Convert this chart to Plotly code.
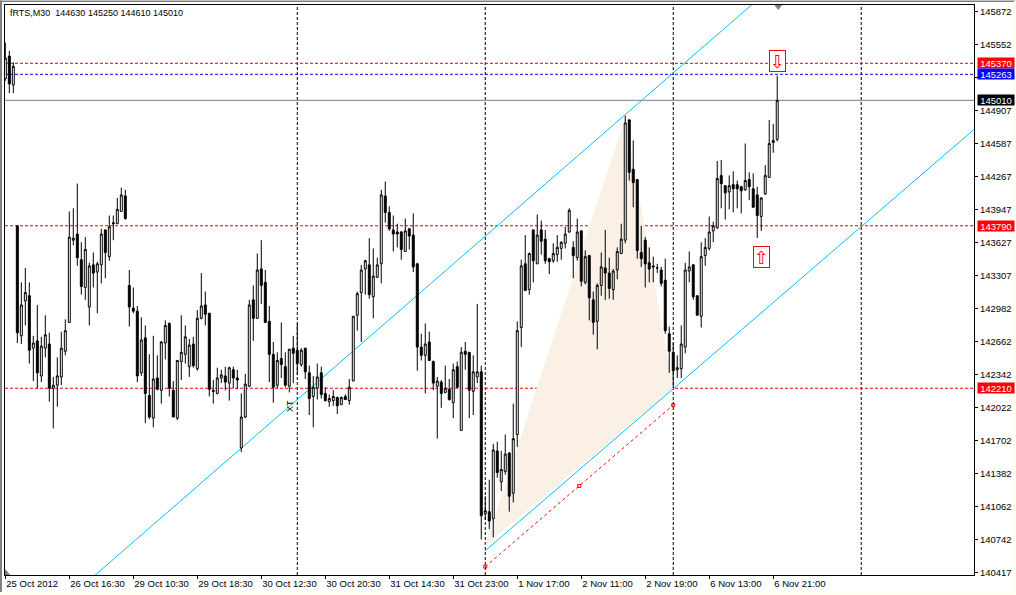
import plotly.graph_objects as go

symbol_text = "fRTS,M30\u00a0\u00a0144630 145250 144610 145010"

opens = [
145220,145440,145160,143790,142720,143060,143110,142600,142670,142330,
142600,142640,142210,142240,142320,142570,142850,143650,143710,143460,
143190,143000,143410,143340,143410,143750,143490,143820,143810,143930,
144080,143210,142990,142960,142360,142700,142140,141920,142310,142190,
142650,142840,142190,141920,142470,142540,142420,142640,142400,142890,
143020,142940,142190,142160,142310,142330,142260,142390,142310,141630,
141930,142230,143070,142890,143370,143240,142860,142540,142240,142500,
142420,142230,142600,142580,142440,142600,142360,142130,142210,142360,
142160,142080,142090,142120,142050,142130,142090,142280,142920,143140,
143370,143410,143100,143290,143420,144080,143920,143750,143730,143730,
143540,143760,143700,143420,142610,142530,142660,142470,142230,142270,
142170,142200,142070,142420,141800,142570,142560,142180,142320,142370,
140990,141010,140940,141600,141300,141400,141580,141190,141760,142800,
143420,143170,143750,143420,143750,143660,143470,143450,143510,143570,
143620,143730,143580,143480,143740,143240,143500,143070,142860,143210,
143380,143330,143170,143360,143520,143650,144820,144340,144240,143530,
143650,143430,143400,143380,143360,143260,142740,142560,142390,142400,
142610,143350,143410,143110,142910,143500,143570,143740,143770,144280,
144180,144120,144190,144190,144170,144140,144240,144150,144090,143880,
144100,144260,144600,144630]

highs = [
145570,145490,145380,143790,143240,143380,143240,142720,143020,142710,
142920,142750,142320,142510,142760,142880,143930,143960,144200,143630,
143680,143430,143530,143440,143760,143750,143890,143890,144060,144160,
144140,143360,143190,143010,142900,142820,142540,142720,142530,142670,
142870,142850,142280,142480,142920,142820,142690,142710,142970,143330,
143150,142940,142290,142410,142390,142420,142420,142420,142390,142160,
142350,143070,143210,143520,143650,143360,143010,142660,142560,142850,
142560,142590,142720,142840,142600,142600,142430,142330,142450,142420,
142220,142150,142190,142130,142130,142150,142300,142910,143150,143410,
143460,143670,143570,143480,144140,144220,143980,143890,143810,143740,
143860,143770,143910,143430,142740,142840,142760,142480,142320,142290,
142430,142300,142450,142470,142610,142660,142560,142530,143030,142430,
141160,141320,141670,141690,141600,141760,141590,142060,142860,143460,
143700,143530,143750,143900,143840,143750,143480,143620,143700,143640,
143780,143960,143640,143860,143750,143550,143500,143150,143230,143530,
143750,143480,143370,143580,143810,144860,144820,144620,144240,143790,
143680,143580,143490,143420,143390,143470,142810,142650,142530,142820,
143430,143540,143420,143110,143630,143670,143880,143830,144420,144430,
144180,144280,144320,144230,144180,144590,144310,144300,144170,144070,
144380,144820,144780,145250]

lows = [
145200,145080,145080,142650,142640,142820,142450,142280,142210,142270,
142510,142080,141820,142030,142240,142530,142850,143600,143400,143120,
143070,142820,143190,142940,143230,143280,143450,143650,143810,143930,
143850,142810,142940,142270,142330,141870,141910,141830,142190,142060,
142490,142130,141930,141900,142290,142450,142320,142410,142380,142880,
142820,142130,142060,142150,142260,142190,142090,142210,142200,141590,
141920,142220,142670,142890,143030,142850,142270,142070,142210,142310,
142220,142170,142260,142340,142420,142300,141950,141830,142100,142110,
142080,142030,142040,141960,142050,142100,142050,142280,142770,142660,
143120,143080,142890,143280,143230,143820,143740,143540,143580,143460,
143540,143560,143340,142380,142480,142160,142480,142190,141720,142020,
142160,142090,141920,142210,141800,142390,141920,141950,142260,140740,
140930,140840,140760,141340,141210,141370,141010,141100,141640,142610,
143160,143120,143240,143420,143510,143420,143320,143430,143440,143460,
143570,143720,143280,143450,143200,143220,142870,142730,142590,143110,
143070,143080,143070,143270,143520,143620,144230,143970,143470,143390,
143190,143240,143240,143330,143200,142740,142360,142210,142310,142310,
142550,143240,143070,142920,142800,143400,143550,143630,143760,143960,
143850,143950,143920,143960,143910,144130,144040,143970,143670,143740,
144090,144260,144500,144610]

closes = [
145420,145170,145340,142750,143020,143140,142580,142650,142360,142620,
142730,142210,142240,142330,142600,142770,143680,143670,143480,143200,
143560,143400,143330,143420,143710,143530,143780,143810,143950,144090,
143860,143000,142960,142330,142680,142160,141930,142300,142200,142660,
142820,142210,141930,142480,142560,142710,142630,142430,142890,143010,
142930,142200,142180,142310,142340,142270,142410,142310,142290,141930,
142250,143020,142890,143360,143210,142850,142540,142220,142480,142440,
142240,142590,142550,142450,142580,142370,142110,142220,142320,142150,
142090,142110,142130,142040,142120,142100,142220,142910,143130,143360,
143450,143120,143300,143410,144090,143920,143760,143710,143710,143560,
143740,143690,143390,142610,142530,142640,142480,142260,142280,142160,
142210,142100,142390,142220,142560,142540,142190,142370,142370,140970,
141020,140920,141610,141390,141420,141570,141160,141720,142770,143400,
143160,143520,143450,143700,143640,143450,143440,143520,143580,143630,
143710,143940,143500,143730,143250,143490,143090,142850,143210,143390,
143330,143180,143350,143540,143660,144790,144310,144210,143550,143470,
143420,143370,143390,143380,143230,142770,142570,142380,142410,142640,
143360,143390,143100,142920,143490,143580,143730,143790,144250,144200,
144110,144180,144150,144150,144130,144230,144170,143970,143890,144060,
144280,144590,144620,145010]

price_ticks = [145872,145552,145232,144907,144587,144267,143947,143627,143307,142982,
               142662,142342,142022,141702,141382,141062,140742,140417]
hidden_tick = 145232
time_tick_idx = [0,16,32,48,64,80,96,112,128,144,160,176,192]
time_labels = ["25 Oct 2012","26 Oct 16:30","29 Oct 10:30","29 Oct 18:30","30 Oct 12:30",
               "30 Oct 20:30","31 Oct 14:30","31 Oct 23:00","1 Nov 17:00","2 Nov 11:00",
               "2 Nov 19:00","6 Nov 13:00","6 Nov 21:00"]
vlines = [73,120,167,214]
# level, line colour, dash, label background
levels = [(145370,"#CC1010","3px,2px","#FF0000"),
          (145263,"#0000FF","3px,2px","#0000FF"),
          (145010,"#708090","solid","#000000"),
          (143790,"#CC1010","3px,2px","#FF0000"),
          (142210,"#FF0000","3px,2px","#FF0000")]
# channel: (i0, p0, i1, p1)
upper_chan = (22.4,140391,186.7,145942)
lower_chan = (120,140630,242.3,144730)
red_chan = [120,143.5,167]
red_chan_p = [140475,141260,142046]
wedge_i = [120,155,167]
wedge_p = [140680,144844,142210]

X0, X1 = -0.08, 242.2
Y0, Y1 = 140394, 145937
FONT = "Liberation Sans"

fig = go.Figure()
fig.add_trace(go.Candlestick(
    x=list(range(len(opens))), open=opens, high=highs, low=lows, close=closes,
    increasing=dict(line=dict(color="black", width=1), fillcolor="white"),
    decreasing=dict(line=dict(color="black", width=1), fillcolor="black"),
    whiskerwidth=0, hoverinfo="skip", showlegend=False))
fig.add_trace(go.Scatter(x=red_chan, y=red_chan_p, mode="markers",
    marker=dict(symbol="square-open", size=3, color="#FF0000", line=dict(width=1)),
    hoverinfo="skip", showlegend=False))

shapes = [dict(type="path", layer="below", xref="x", yref="y", line=dict(width=0), fillcolor="#FAF0E6",
               path=f"M {wedge_i[0]} {wedge_p[0]} L {wedge_i[1]} {wedge_p[1]} L {wedge_i[2]} {wedge_p[2]} Z")]
for v in vlines:
    shapes.append(dict(type="line", layer="below", xref="x", yref="paper", x0=v, x1=v, y0=0, y1=1,
                       line=dict(color="black", width=1, dash="3px,2px")))
for p, c, d, _ in levels:
    shapes.append(dict(type="line", layer="below", xref="paper", yref="y", x0=0, x1=1, y0=p, y1=p,
                       line=dict(color=c, width=1, dash=d)))
for ch in (upper_chan, lower_chan):
    shapes.append(dict(type="line", layer="below", xref="x", yref="y", x0=ch[0], y0=ch[1], x1=ch[2], y1=ch[3],
                       line=dict(color="#00BFFF", width=1)))
shapes.append(dict(type="line", layer="below", xref="x", yref="y", x0=red_chan[0], y0=red_chan_p[0],
                   x1=red_chan[2], y1=red_chan_p[2], line=dict(color="#FF0000", width=1, dash="3px,3px")))
# scroll markers in the chart corners
shapes.append(dict(type="path", xref="paper", yref="paper", line=dict(width=0), fillcolor="#708090",
                   path="M 0 0 L 0.0055 0 L 0 0.0105 Z"))
shapes.append(dict(type="path", xref="paper", yref="paper", line=dict(width=0), fillcolor="#808080",
                   path="M 0.7939 1 L 0.8021 1 L 0.798 0.9912 Z"))
# window edges
for x0, x1, y0, y1, col in [(-0.00516, -0.0031, -0.0351, 1.0079, "#808080"),
                            (-0.00516, 1.0433, 1.0053, 1.0079, "#808080"),
                            (-0.00516, 1.0433, -0.0351, -0.0298, "#FFFFF0"),
                            (1.0413, 1.0433, -0.0351, 1.0079, "#FFFFF0")]:
    shapes.append(dict(type="rect", xref="paper", yref="paper", x0=x0, x1=x1, y0=y0, y1=y1,
                       line=dict(width=0), fillcolor=col))

anns = [dict(text=symbol_text, xref="paper", yref="paper", x=0.003, y=0.9855, xanchor="left", yanchor="middle",
             showarrow=False, font=dict(family=FONT, size=9, color="black")),
        dict(text="XT", xref="x", yref="y", x=71, y=142040, textangle=-90, showarrow=False,
             font=dict(family=FONT, size=9, color="black")),
        dict(text="\u21e9", xref="x", yref="y", x=193, y=145388, showarrow=False, width=15, height=20,
             bgcolor="white", bordercolor="#FF0000", borderwidth=1, borderpad=0,
             font=dict(family="DejaVu Sans", size=18, color="#FF0000")),
        dict(text="\u21e7", xref="x", yref="y", x=189, y=143484, showarrow=False, width=15, height=20,
             bgcolor="white", bordercolor="#FF0000", borderwidth=1, borderpad=0,
             font=dict(family="DejaVu Sans", size=18, color="#FF0000"))]
for p, _, _, bg in levels:
    anns.append(dict(text=str(p), xref="paper", yref="y", x=1.0031, y=p, xanchor="left", yanchor="middle",
                     showarrow=False, width=36, height=10, bgcolor=bg, borderpad=0, align="center",
                     font=dict(family=FONT, size=9.5, color="white")))

fig.update_layout(
    width=1016, height=595, margin=dict(l=5, r=42, t=4.5, b=20, autoexpand=False),
    paper_bgcolor="white", plot_bgcolor="white", showlegend=False, hovermode=False,
    shapes=shapes, annotations=anns, boxgap=0.3,
    xaxis=dict(range=[X0, X1], rangeslider=dict(visible=False), showgrid=False, zeroline=False,
               showline=True, mirror=True, linecolor="black", linewidth=1,
               tickmode="array", tickvals=time_tick_idx, ticktext=time_labels, ticks="outside", ticklen=3,
               tickcolor="black", ticklabelposition="outside right",
               tickfont=dict(family=FONT, size=9.5, color="black")),
    yaxis=dict(range=[Y0, Y1], side="right", showgrid=False, zeroline=False,
               showline=True, mirror=True, linecolor="black", linewidth=1,
               tickmode="array", tickvals=price_ticks,
               ticktext=["" if t == hidden_tick else str(t) for t in price_ticks],
               ticks="outside", ticklen=3,
               tickcolor="black", tickfont=dict(family=FONT, size=9.5, color="black")),
)
fig.write_html("out.html", post_script="document.body.style.margin='0';document.body.style.background='#FFFFFF';", config=dict(displayModeBar=False))
